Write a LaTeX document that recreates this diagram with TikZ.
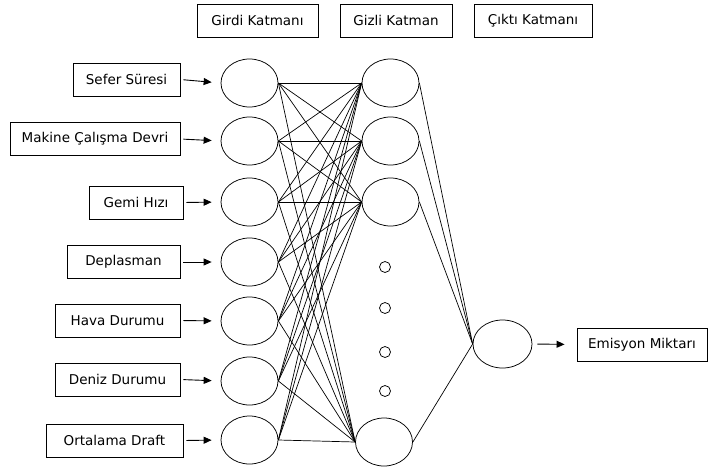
\documentclass[tikz,border=0pt]{standalone}
\usepackage{fontspec}
\setmainfont{DejaVu Sans}
\usetikzlibrary{arrows.meta,shapes.geometric}
\begin{document}
\begin{tikzpicture}[x=1pt,y=-1pt,
  every node/.style={font=\fontsize{13.5}{15}\selectfont},
  labelbox/.style={draw, line width=0.9pt, rectangle, minimum height=33pt, inner sep=0pt},
  neuron/.style={draw, line width=0.75pt, ellipse, minimum width=57pt, minimum height=48pt, inner sep=0pt},
  dotnode/.style={draw, line width=0.75pt, circle, minimum size=11pt, inner sep=0pt},
  feed/.style={line width=0.9pt, -{Triangle[length=8pt,width=7pt]}},
  link/.style={line width=0.7pt}]
\useasboundingbox (0,0) rectangle (708,471);

% layer titles
\node[labelbox, minimum width=121pt] (tin)  at (257.5,20.5) {Girdi Katmanı};
\node[labelbox, minimum width=112pt] (thid) at (396,20.5)   {Gizli Katman};
\node[labelbox, minimum width=118pt] (tout) at (533,20.5)   {Çıktı Katmanı};

% input labels
\node[labelbox, minimum width=107pt] (b1) at (126.5,79.5) {Sefer Süresi};
\node[labelbox, minimum width=170pt] (b2) at (95,139)     {Makine Çalışma Devri};
\node[labelbox, minimum width=94pt]  (b3) at (136,202.5)  {Gemi Hızı};
\node[labelbox, minimum width=113pt] (b4) at (123.5,262)  {Deplasman};
\node[labelbox, minimum width=125pt] (b5) at (117.5,320.5){Hava Durumu};
\node[labelbox, minimum width=125pt] (b6) at (117.5,379.5){Deniz Durumu};
\node[labelbox, minimum width=137pt] (b7) at (114.5,440.5){Ortalama Draft};

% input neurons
\foreach \i/\y in {1/83,2/141,3/202,4/262,5/321,6/381,7/440}
  \node[neuron] (i\i) at (249.5,\y) {};

% hidden neurons
\node[neuron] (h1) at (390.5,83)  {};
\node[neuron] (h2) at (390.5,141) {};
\node[neuron] (h3) at (390.5,202) {};
\node[neuron] (h4) at (384,442)   {};

% omitted hidden neurons
\foreach \k/\y in {1/267,2/308,3/352,4/391}
  \node[dotnode] (d\k) at (385,\y) {};

% output neuron and label
\node[neuron, minimum width=59pt] (o) at (502.5,344) {};
\node[labelbox, minimum width=130pt] (bo) at (642,344.5) {Emisyon Miktarı};

% arrows into the input layer
\foreach \i in {1,...,7}
  \draw[feed, shorten <=3pt, shorten >=9pt] (b\i.east) -- (i\i.west);

% input -> hidden connections
\foreach \i in {1,...,7}
  \foreach \j in {1,...,4}
    \draw[link] (i\i.east) -- (h\j.west);

% hidden -> output connections
\foreach \j in {1,...,4}
  \draw[link] (h\j.east) -- (o.west);

% output arrow
\draw[feed, shorten <=5pt, shorten >=12pt] (o.east) -- (bo.west);
\end{tikzpicture}
\end{document}
